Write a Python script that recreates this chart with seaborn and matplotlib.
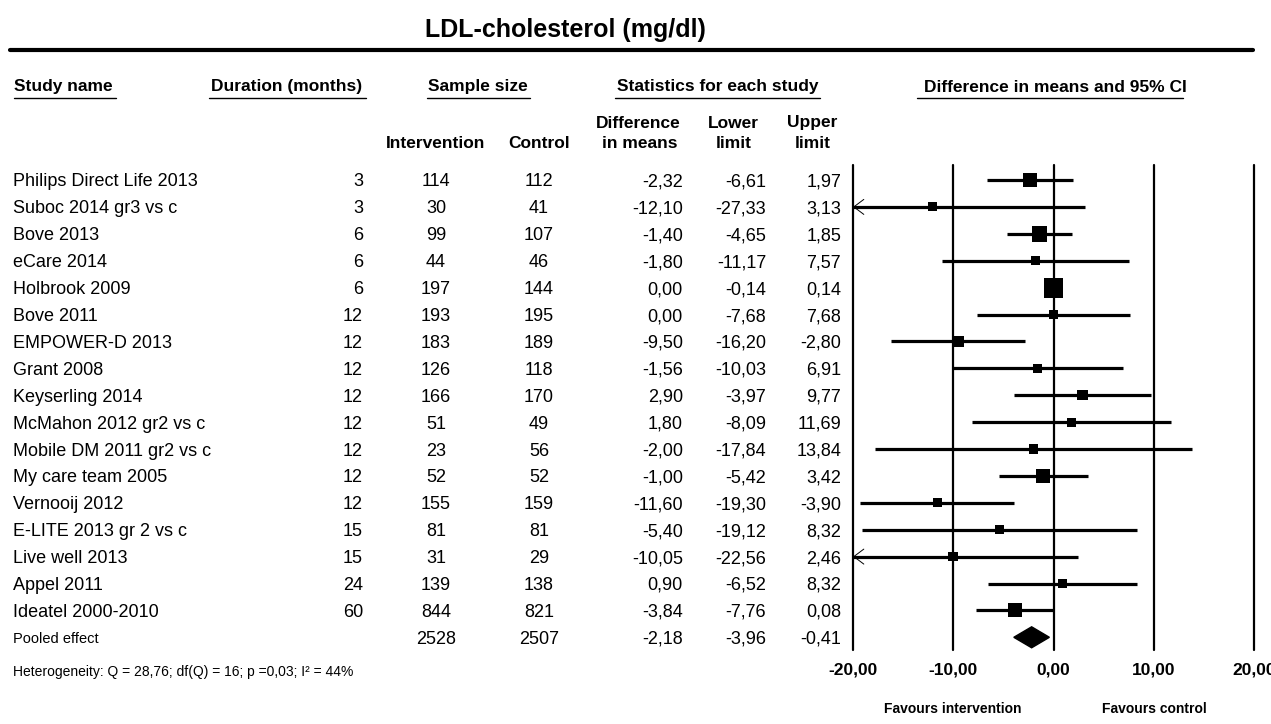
import numpy as np
import pandas as pd
import matplotlib
matplotlib.use("Agg")
import matplotlib.pyplot as plt
import matplotlib.transforms as mtransforms
from matplotlib.lines import Line2D
import seaborn as sns

# ---------------- data ----------------
studies = ["Philips Direct Life 2013", "Suboc 2014 gr3 vs c", "Bove 2013", "eCare 2014",
           "Holbrook 2009", "Bove 2011", "EMPOWER-D 2013", "Grant 2008", "Keyserling 2014",
           "McMahon 2012 gr2 vs c", "Mobile DM 2011 gr2 vs c", "My care team 2005",
           "Vernooij 2012", "E-LITE 2013 gr 2 vs c", "Live well 2013", "Appel 2011",
           "Ideatel 2000-2010"]
duration = [3, 3, 6, 6, 6, 12, 12, 12, 12, 12, 12, 12, 12, 15, 15, 24, 60]
n_intervention = [114, 30, 99, 44, 197, 193, 183, 126, 166, 51, 23, 52, 155, 81, 31, 139, 844]
n_control = [112, 41, 107, 46, 144, 195, 189, 118, 170, 49, 56, 52, 159, 81, 29, 138, 821]
diff = [-2.32, -12.10, -1.40, -1.80, 0.00, 0.00, -9.50, -1.56, 2.90, 1.80, -2.00, -1.00,
        -11.60, -5.40, -10.05, 0.90, -3.84]
lower = [-6.61, -27.33, -4.65, -11.17, -0.14, -7.68, -16.20, -10.03, -3.97, -8.09, -17.84,
         -5.42, -19.30, -19.12, -22.56, -6.52, -7.76]
upper = [1.97, 3.13, 1.85, 7.57, 0.14, 7.68, -2.80, 6.91, 9.77, 11.69, 13.84, 3.42,
         -3.90, 8.32, 2.46, 8.32, 0.08]
# relative study weights
weight = [7.4, 3.2, 9.3, 3.1, 15.1, 3.1, 4.6, 2.9, 4.0, 3.1, 3.1, 7.4, 3.1, 3.2, 3.5, 3.2, 7.4]

pooled_label = "Pooled effect"
pooled_n_int = 2528
pooled_n_ctrl = 2507
pooled_diff = -2.18
pooled_lower = -3.96
pooled_upper = -0.41

x_ticks = [-20, -10, 0, 10, 20]
x_tick_labels = ["-20,00", "-10,00", "0,00", "10,00", "20,00"]
heterogeneity = "Heterogeneity: Q = 28,76; df(Q) = 16; p =0,03; I\u00b2 = 44%"
title = "LDL-cholesterol (mg/dl)"

# ---------------- style ----------------
sns.set_theme(style="white")
plt.rcParams["font.family"] = ["Liberation Sans", "DejaVu Sans"]
plt.rcParams["text.color"] = "black"
plt.rcParams["xtick.color"] = "black"
plt.rcParams["axes.labelcolor"] = "black"

W, H = 1271, 724
fig = plt.figure(figsize=(W / 100, H / 100), dpi=100)
fig.patch.set_facecolor("white")

ROW = 26.9
Y0 = 180.0
ax_top, ax_bot = 165.0, 650.0
ax = fig.add_axes([853 / W, 1 - ax_bot / H, 401 / W, (ax_bot - ax_top) / H])
ax.set_facecolor("none")
XMIN, XMAX = -20, 20
ax.set_xlim(XMIN, XMAX)
ax.set_ylim((ax_bot - Y0) / ROW, (ax_top - Y0) / ROW)
for s in ax.spines.values():
    s.set_visible(False)

n = len(studies)
df = pd.DataFrame({"study": studies, "row": np.arange(n), "diff": diff,
                   "lower": lower, "upper": upper, "weight": weight})

# vertical reference lines
for xv in x_ticks:
    ax.axvline(xv, color="black", lw=1.6, clip_on=False, zorder=1)

# confidence intervals
ax.hlines(df["row"], np.maximum(df["lower"], XMIN), df["upper"], color="black",
          lw=2.3, zorder=2, clip_on=False)
# arrows for truncated intervals
for r, lo in zip(df["row"], df["lower"]):
    if lo < XMIN:
        ax.annotate("", xy=(XMIN, r), xytext=(XMIN + 2.5, r),
                    arrowprops=dict(arrowstyle="->,head_length=0.6,head_width=0.45",
                                    lw=0.7, color="black", shrinkA=0, shrinkB=0),
                    annotation_clip=False)

# study boxes
wmin, wmax = min(weight), max(weight)
k = 13.7
sns.scatterplot(data=df, x="diff", y="row", size="weight", sizes=(wmin * k, wmax * k),
                size_norm=(wmin, wmax), marker="s", color="black", edgecolor="black",
                linewidth=0, legend=False, ax=ax, zorder=3, clip_on=False)

# pooled diamond
pr = n
h = 0.39
ax.fill([pooled_lower, pooled_diff, pooled_upper, pooled_diff],
        [pr, pr - h, pr, pr + h], color="black", zorder=3, clip_on=False)

ax.set_xlabel("")
ax.set_ylabel("")
ax.set_yticks([])
ax.set_xticks(x_ticks)
ax.set_xticklabels(x_tick_labels, fontsize=12.5, fontweight="bold", color="black")
ax.tick_params(axis="x", length=0, pad=9)

# ---------------- table text ----------------
tr = mtransforms.blended_transform_factory(fig.transFigure, ax.transData)


def fmt(v):
    s = f"{v:.2f}".replace(".", ",")
    return "0,00" if s == "-0,00" else s


row_fs = 13
VA = "center_baseline"
for i in range(n):
    ax.text(13 / W, i, studies[i], transform=tr, ha="left", va=VA, fontsize=row_fs)
    ax.text(363 / W, i, str(duration[i]), transform=tr, ha="right", va=VA, fontsize=row_fs)
    ax.text(436 / W, i, str(n_intervention[i]), transform=tr, ha="center", va=VA, fontsize=row_fs)
    ax.text(539 / W, i, str(n_control[i]), transform=tr, ha="center", va=VA, fontsize=row_fs)
    ax.text(683 / W, i, fmt(diff[i]), transform=tr, ha="right", va=VA, fontsize=row_fs)
    ax.text(766 / W, i, fmt(lower[i]), transform=tr, ha="right", va=VA, fontsize=row_fs)
    ax.text(841 / W, i, fmt(upper[i]), transform=tr, ha="right", va=VA, fontsize=row_fs)

ax.text(13 / W, pr, pooled_label, transform=tr, ha="left", va=VA, fontsize=10.5)
ax.text(436 / W, pr, str(pooled_n_int), transform=tr, ha="center", va=VA, fontsize=row_fs)
ax.text(539 / W, pr, str(pooled_n_ctrl), transform=tr, ha="center", va=VA, fontsize=row_fs)
ax.text(683 / W, pr, fmt(pooled_diff), transform=tr, ha="right", va=VA, fontsize=row_fs)
ax.text(766 / W, pr, fmt(pooled_lower), transform=tr, ha="right", va=VA, fontsize=row_fs)
ax.text(841 / W, pr, fmt(pooled_upper), transform=tr, ha="right", va=VA, fontsize=row_fs)


def ftxt(x, y, s, **kw):
    fig.text(x / W, 1 - y / H, s, **kw)


def hline(x0, x1, y, lw=1.0):
    fig.add_artist(Line2D([x0 / W, x1 / W], [1 - y / H, 1 - y / H], color="black", lw=lw))


ftxt(565, 30, title, ha="center", va="center", fontsize=18, fontweight="bold")
hline(10, 1253, 50, lw=3)

hdr_fs = 12.5
ftxt(14, 87, "Study name", ha="left", va="center", fontsize=hdr_fs, fontweight="bold")
ftxt(287, 87, "Duration (months)", ha="center", va="center", fontsize=hdr_fs, fontweight="bold")
ftxt(478, 87, "Sample size", ha="center", va="center", fontsize=hdr_fs, fontweight="bold")
ftxt(718, 87, "Statistics for each study", ha="center", va="center", fontsize=hdr_fs, fontweight="bold")
ftxt(1055, 87, "Difference in means and 95% CI", ha="center", va="center", fontsize=hdr_fs, fontweight="bold")
for x0, x1 in [(14, 116), (209, 366), (427, 530), (615, 820), (917, 1183)]:
    hline(x0, x1, 98, lw=1.0)

ftxt(436, 143, "Intervention", ha="center", va="center", fontsize=hdr_fs, fontweight="bold")
ftxt(539, 143, "Control", ha="center", va="center", fontsize=hdr_fs, fontweight="bold")
ftxt(638, 123, "Difference", ha="center", va="center", fontsize=hdr_fs, fontweight="bold")
ftxt(640, 143, "in means", ha="center", va="center", fontsize=hdr_fs, fontweight="bold")
ftxt(733, 123, "Lower", ha="center", va="center", fontsize=hdr_fs, fontweight="bold")
ftxt(734, 143, "limit", ha="center", va="center", fontsize=hdr_fs, fontweight="bold")
ftxt(812, 123, "Upper", ha="center", va="center", fontsize=hdr_fs, fontweight="bold")
ftxt(813, 143, "limit", ha="center", va="center", fontsize=hdr_fs, fontweight="bold")

ftxt(13, 672, heterogeneity, ha="left", va="center", fontsize=10)
ftxt(953, 709, "Favours intervention", ha="center", va="center", fontsize=10, fontweight="bold")
ftxt(1154, 709, "Favours control", ha="center", va="center", fontsize=10, fontweight="bold")

fig.savefig("out.png", dpi=100)
